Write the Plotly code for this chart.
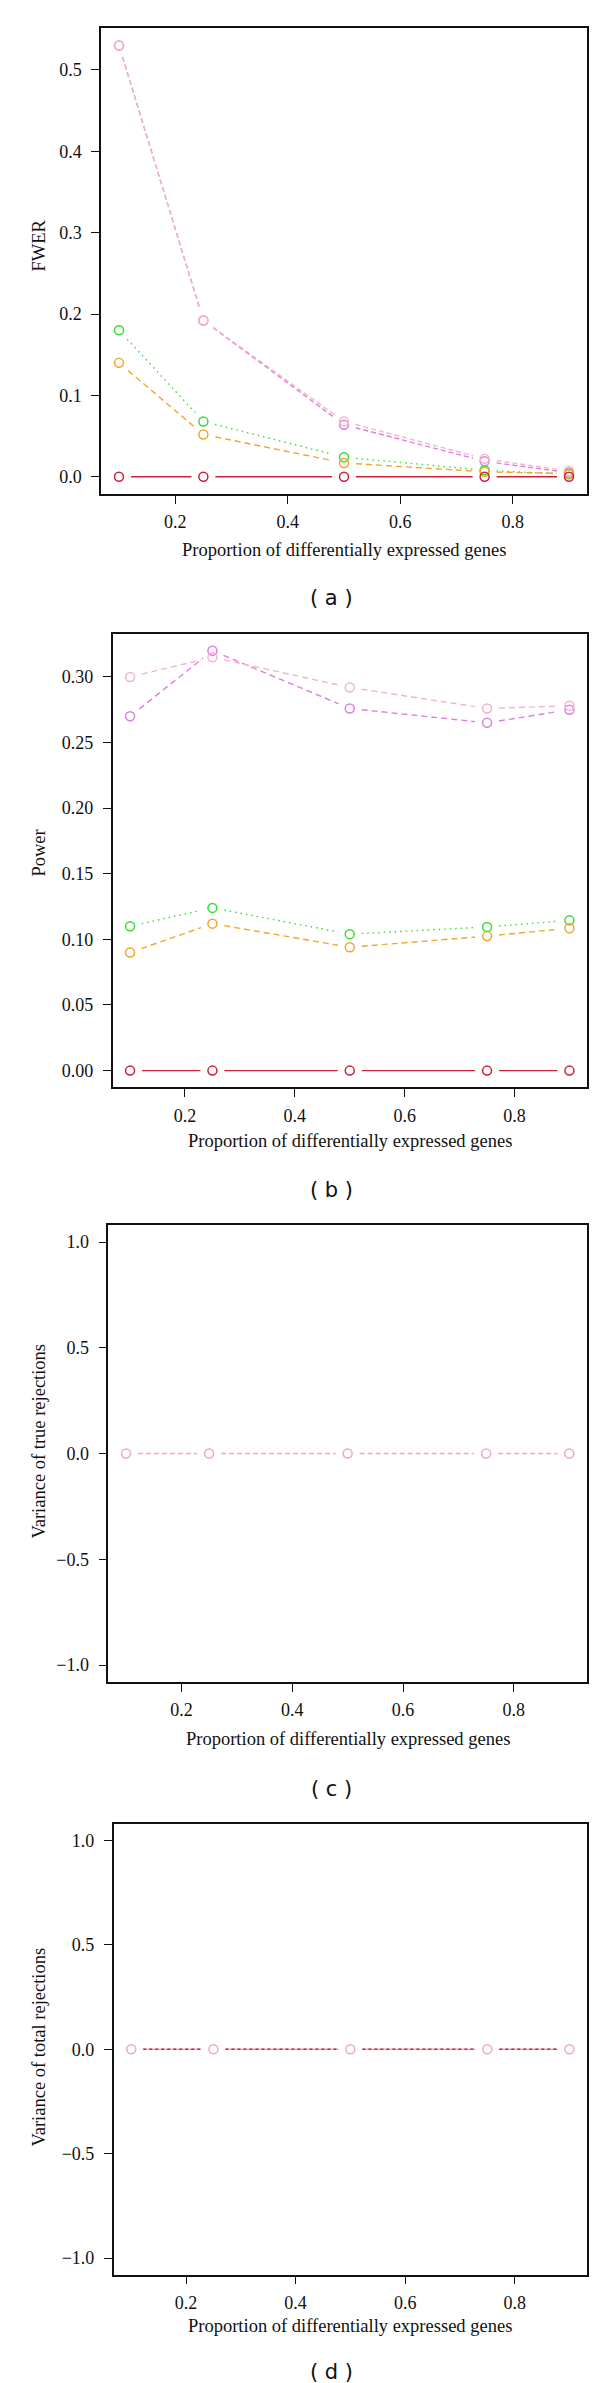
import plotly.graph_objects as go

# ---------------- data ----------------
prop = [0.1, 0.25, 0.5, 0.75, 0.9]

fwer_violet = [0.530, 0.192, 0.064, 0.019, 0.005]
fwer_pink = [0.530, 0.192, 0.068, 0.022, 0.007]
fwer_green = [0.180, 0.068, 0.024, 0.008, 0.003]
fwer_orange = [0.140, 0.052, 0.017, 0.006, 0.004]
fwer_red = [0.0, 0.0, 0.0, 0.0, 0.0]

power_violet = [0.270, 0.320, 0.276, 0.265, 0.275]
power_pink = [0.300, 0.315, 0.292, 0.276, 0.278]
power_green = [0.110, 0.124, 0.104, 0.1095, 0.1145]
power_orange = [0.090, 0.112, 0.094, 0.1025, 0.1085]
power_red = [0.0, 0.0, 0.0, 0.0, 0.0]

vartrue_pink = [0.0, 0.0, 0.0, 0.0, 0.0]
vartotal_pink = [0.0, 0.0, 0.0, 0.0, 0.0]
vartotal_red = [0.0, 0.0, 0.0, 0.0, 0.0]

x_tickvals = [0.2, 0.4, 0.6, 0.8]
x_ticktext = ["0.2", "0.4", "0.6", "0.8"]
fwer_tickvals = [0.0, 0.1, 0.2, 0.3, 0.4, 0.5]
fwer_ticktext = ["0.0", "0.1", "0.2", "0.3", "0.4", "0.5"]
power_tickvals = [0.0, 0.05, 0.10, 0.15, 0.20, 0.25, 0.30]
power_ticktext = ["0.00", "0.05", "0.10", "0.15", "0.20", "0.25", "0.30"]
var_tickvals = [-1.0, -0.5, 0.0, 0.5, 1.0]
var_ticktext = ["\u22121.0", "\u22120.5", "0.0", "0.5", "1.0"]

x_title = "Proportion of differentially expressed genes"
y_titles = ["FWER", "Power", "Variance of true rejections", "Variance of total rejections"]
panel_labels = ["( a )", "( b )", "( c )", "( d )"]

# ---------------- styles ----------------
W, H = 600, 2383
C_PINK = "#f4b4c6"
C_VIOLET = "#e07ede"
C_GREEN = "#33dd33"
C_ORANGE = "#f5a52a"
C_RED = "#cc1f3c"
C_PINK2 = "#f0aab0"

SERIF = "Liberation Serif, Times New Roman, serif"
SANS = "DejaVu Sans, sans-serif"

# panel boxes in pixels: left, right, top, bottom
boxes = [
    (93.0, 579.0, 20.3, 486.0),
    (104.5, 579.0, 625.9, 1079.4),
    (100.3, 579.0, 1217.1, 1674.0),
    (105.7, 579.0, 1815.7, 2266.7),
]
ytitle_centers = [238, 845, 1433, 2039]
label_centers = [590, 1182, 1781, 2364]
xtitle_centers = [541.5, 1133, 1731, 2317.6]


def r_range(vals):
    lo, hi = min(vals), max(vals)
    if hi == lo:
        lo, hi = lo - 1, hi + 1
    s = hi - lo
    return [lo - 0.04 * s, hi + 0.04 * s]


def gapped(xs, ys, xr, yr, wpx, hpx, gap=12.0):
    """Line segments between points, shortened near each point (R type='b')."""
    ox, oy = [], []
    sx = wpx / (xr[1] - xr[0])
    sy = hpx / (yr[1] - yr[0])
    for i in range(len(xs) - 1):
        px0, py0 = xs[i] * sx, ys[i] * sy
        px1, py1 = xs[i + 1] * sx, ys[i + 1] * sy
        dx, dy = px1 - px0, py1 - py0
        d = (dx * dx + dy * dy) ** 0.5
        if d <= 2 * gap:
            continue
        ux, uy = dx / d, dy / d
        ox += [(px0 + ux * gap) / sx, (px1 - ux * gap) / sx, None]
        oy += [(py0 + uy * gap) / sy, (py1 - uy * gap) / sy, None]
    return ox, oy


# (values, colour, dash, draw markers)
panels = [
    [(fwer_violet, C_VIOLET, "5px,3px", True), (fwer_pink, C_PINK, "5px,3px", True),
     (fwer_green, C_GREEN, "1.5px,4px", True), (fwer_orange, C_ORANGE, "6px,4px", True),
     (fwer_red, C_RED, "solid", True)],
    [(power_violet, C_VIOLET, "6px,4px", True), (power_pink, C_PINK, "6px,4px", True),
     (power_green, C_GREEN, "1.5px,4px", True), (power_orange, C_ORANGE, "6px,4px", True),
     (power_red, C_RED, "solid", True)],
    [(vartrue_pink, C_PINK2, "5px,3px", True)],
    [(vartotal_pink, C_PINK2, "solid", True), (vartotal_red, C_RED, "3px,3px", False)],
]
yticks = [(fwer_tickvals, fwer_ticktext), (power_tickvals, power_ticktext),
          (var_tickvals, var_ticktext), (var_tickvals, var_ticktext)]

fig = go.Figure()
annotations = []
for k, (series, (tv, tt), box) in enumerate(zip(panels, yticks, boxes)):
    l, r, t, b = box
    xa = "x" if k == 0 else f"x{k+1}"
    ya = "y" if k == 0 else f"y{k+1}"
    xr = r_range(prop)
    allv = [v for s in series for v in s[0]]
    yr = r_range(allv)
    wpx, hpx = r - l, b - t
    for vals, col, dash, _ in series:
        gx, gy = gapped(prop, vals, xr, yr, wpx, hpx)
        fig.add_trace(go.Scatter(x=gx, y=gy, mode="lines", xaxis=xa, yaxis=ya,
                                 line=dict(color=col, width=1.4, dash=dash),
                                 connectgaps=False, showlegend=False, hoverinfo="skip"))
    for vals, col, dash, mk in series:
        if not mk:
            continue
        fig.add_trace(go.Scatter(x=prop, y=vals, mode="markers", xaxis=xa, yaxis=ya,
                                 marker=dict(symbol="circle-open", size=9, color=col,
                                             line=dict(width=1.5, color=col)),
                                 showlegend=False))
    axis_common = dict(showline=True, mirror=True, linecolor="#111", linewidth=1.5,
                       ticks="outside", ticklen=8, tickwidth=1.2, tickcolor="#111",
                       showgrid=False, zeroline=False,
                       tickfont=dict(family=SERIF, size=18, color="#111"))
    fig.update_layout(**{
        ("xaxis" if k == 0 else f"xaxis{k+1}"): dict(
            domain=[l / W, r / W], range=xr, anchor=ya,
            tickvals=x_tickvals, ticktext=x_ticktext, ticklabelstandoff=3, **axis_common),
        ("yaxis" if k == 0 else f"yaxis{k+1}"): dict(
            domain=[1 - b / H, 1 - t / H], range=yr, anchor=xa,
            tickvals=tv, ticktext=tt, ticklabelstandoff=6, **axis_common),
    })
    annotations.append(dict(text=x_title, xref="paper", yref="paper",
                            x=(l + r) / 2 / W, y=1 - xtitle_centers[k] / H, showarrow=False,
                            xanchor="center", yanchor="middle",
                            font=dict(family=SERIF, size=18.5, color="#111")))
    annotations.append(dict(text=y_titles[k], xref="paper", yref="paper",
                            x=30.6 / W, y=1 - ytitle_centers[k] / H, showarrow=False,
                            textangle=-90, xanchor="center", yanchor="middle",
                            font=dict(family=SERIF, size=18.5, color="#111")))
    annotations.append(dict(text=panel_labels[k], xref="paper", yref="paper",
                            x=323 / W, y=1 - label_centers[k] / H, showarrow=False,
                            xanchor="center", yanchor="middle",
                            font=dict(family=SANS, size=21, color="#111")))

fig.update_layout(width=W, height=H, margin=dict(l=0, r=0, t=0, b=0),
                  plot_bgcolor="white", paper_bgcolor="white",
                  annotations=annotations, showlegend=False)
fig.write_html("out.html")
